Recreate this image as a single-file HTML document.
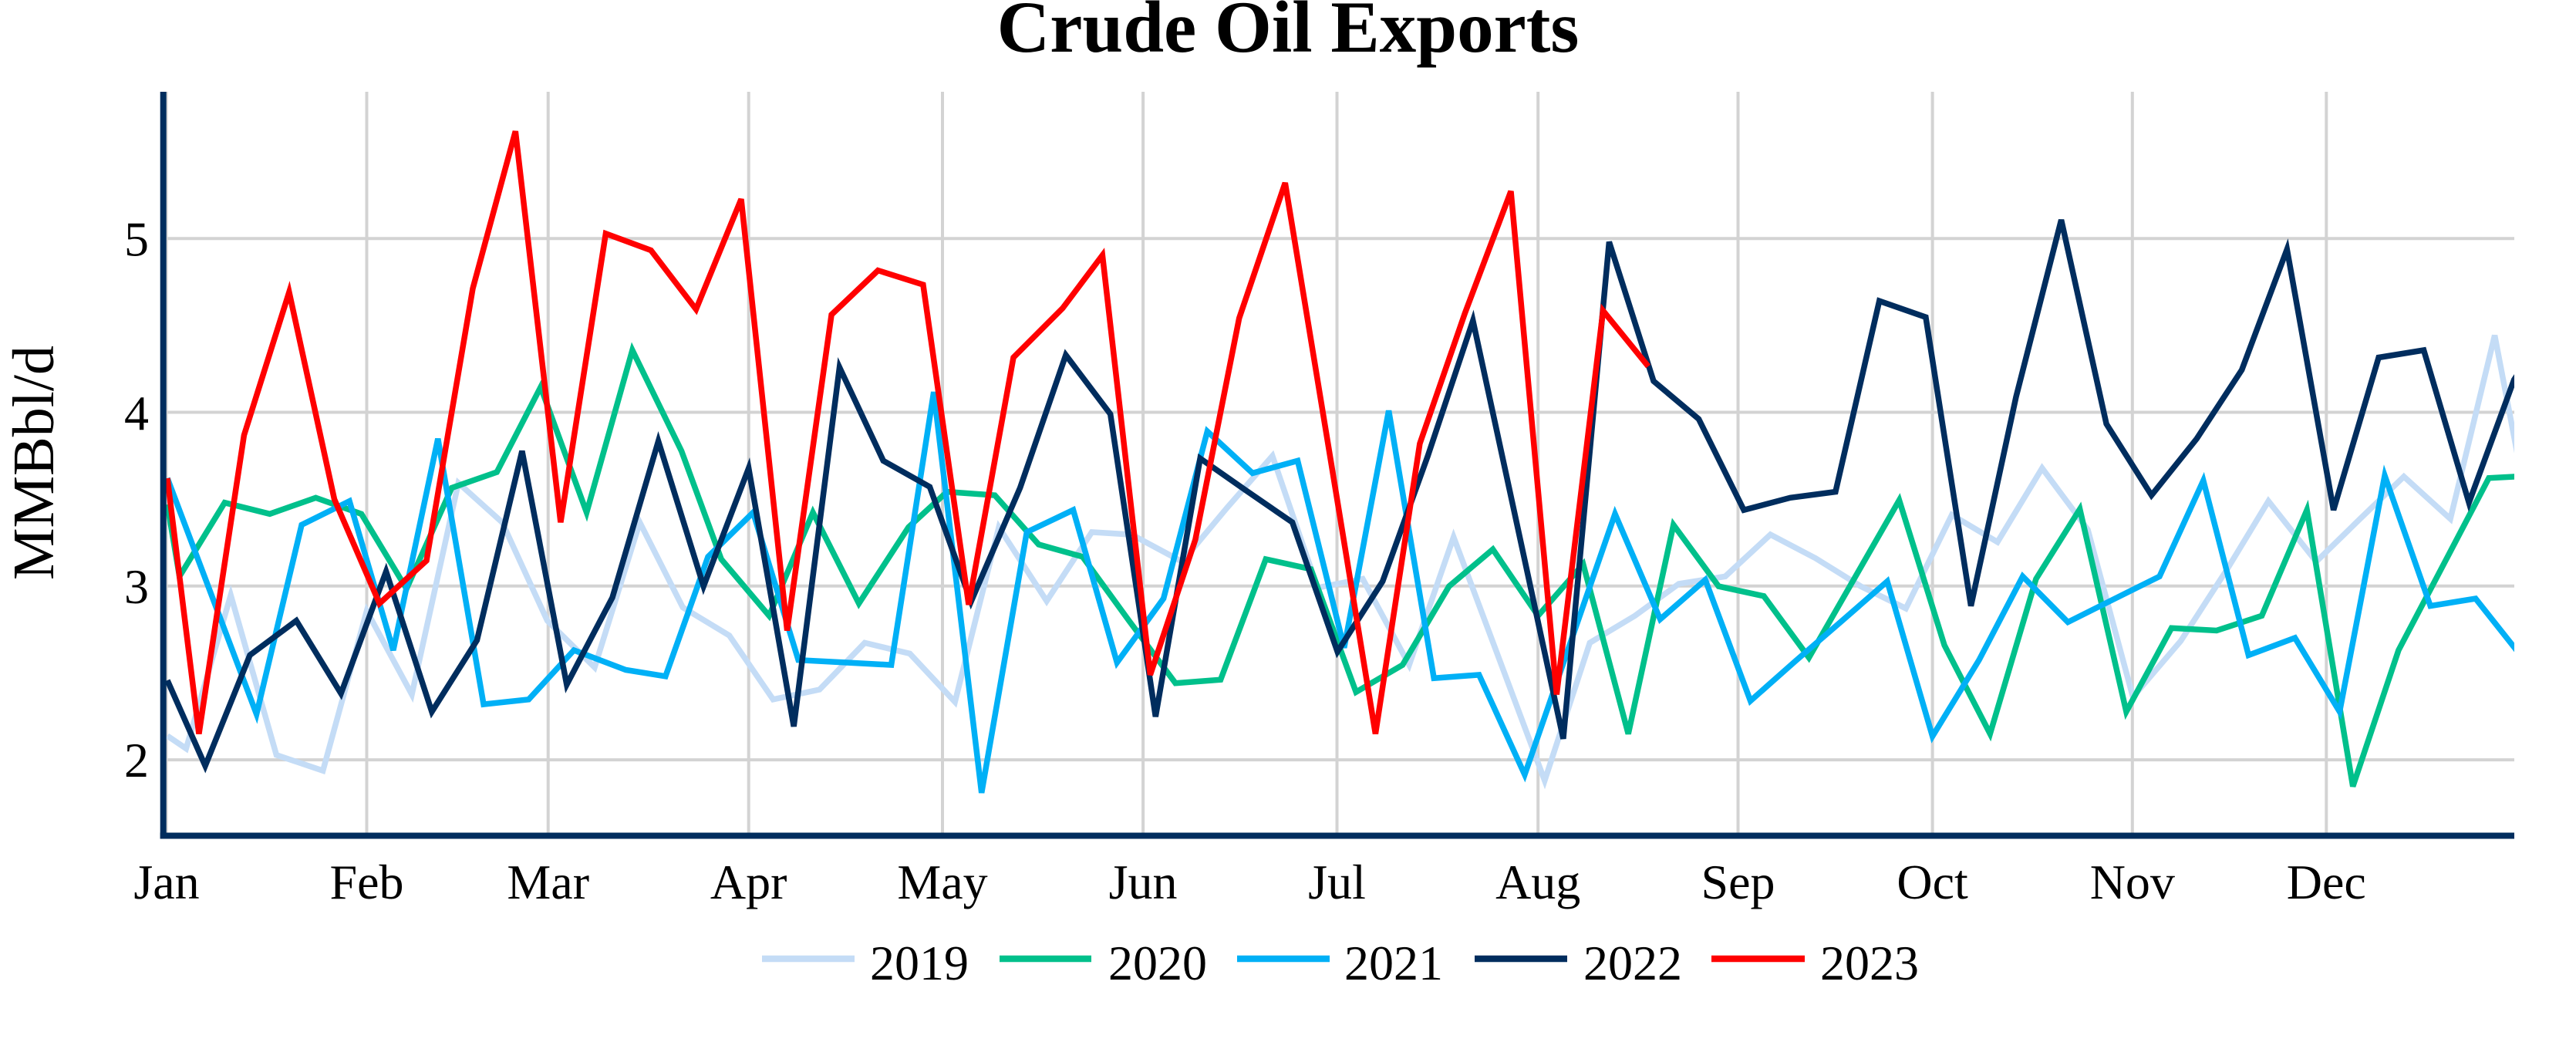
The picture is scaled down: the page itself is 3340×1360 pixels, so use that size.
<!DOCTYPE html>
<html>
<head>
<meta charset="utf-8">
<style>
  html, body { margin: 0; padding: 0; background: #ffffff; }
  svg { display: block; }
  text { font-family: "Liberation Serif", "Times New Roman", serif; fill: #000; }
</style>
</head>
<body>
<svg width="3340" height="1360" viewBox="0 0 3340 1360" xmlns="http://www.w3.org/2000/svg">
  <rect x="0" y="0" width="3340" height="1360" fill="#ffffff"/>
  <defs>
    <clipPath id="plot">
      <rect x="212" y="119" width="3048" height="964"/>
    </clipPath>
  </defs>

  <!-- Title -->
  <text x="1670" y="67" font-size="95" font-weight="bold" text-anchor="middle">Crude Oil Exports</text>

  <!-- Gridlines -->
  <g stroke="#d3d3d3" stroke-width="4" fill="none">
    <line x1="212" y1="309.2" x2="3260" y2="309.2"/>
    <line x1="212" y1="534.5" x2="3260" y2="534.5"/>
    <line x1="212" y1="759.8" x2="3260" y2="759.8"/>
    <line x1="212" y1="985.1" x2="3260" y2="985.1"/>
    <line x1="215.5" y1="119" x2="215.5" y2="1083"/>
    <line x1="475.5" y1="119" x2="475.5" y2="1083"/>
    <line x1="710.7" y1="119" x2="710.7" y2="1083"/>
    <line x1="970.7" y1="119" x2="970.7" y2="1083"/>
    <line x1="1222" y1="119" x2="1222" y2="1083"/>
    <line x1="1482.1" y1="119" x2="1482.1" y2="1083"/>
    <line x1="1733.5" y1="119" x2="1733.5" y2="1083"/>
    <line x1="1994.2" y1="119" x2="1994.2" y2="1083"/>
    <line x1="2253.5" y1="119" x2="2253.5" y2="1083"/>
    <line x1="2505.6" y1="119" x2="2505.6" y2="1083"/>
    <line x1="2764.8" y1="119" x2="2764.8" y2="1083"/>
    <line x1="3016.3" y1="119" x2="3016.3" y2="1083"/>
  </g>

  <!-- Series -->
  <g clip-path="url(#plot)" fill="none" stroke-width="7.5" stroke-linejoin="miter" stroke-miterlimit="4">
    <!-- 2019 -->
    <polyline stroke="#c4dcf6" points="217,954 241.3,970.5 299.2,771.6 358.4,978.8 418.7,999.2 475.5,792 534,900.4 594.3,626.1 651.1,677.2 709.6,804.7 771,865.3 829.5,677.2 885.3,787.5 945.6,823.9 1002.4,906.8 1062.6,894 1121.2,833.4 1179.7,847.4 1238.2,910 1295.1,683.5 1357.1,779.2 1415.6,689.9 1467.3,693.1 1532.7,728.2 1591.2,658 1649.8,591.1 1708.3,762 1766.9,750.5 1827.1,862.1 1884.7,696.3 2002.8,1012 2061.3,833.4 2119.9,798.3 2176.7,756.9 2236.9,747.3 2295.5,693.1 2354,723.7 2412.6,760.1 2471.1,788.8 2530.7,667.6 2589.9,702.7 2647.8,607 2707,686.7 2765.5,903.6 2827.5,831 2887.8,737.8 2941.2,649.7 3003.2,728.2 3060,672.7 3116.8,617.9 3177.1,672.7 3234.6,434.8 3270,620"/>
    <!-- 2020 -->
    <polyline stroke="#00c08b" points="217,654 232.7,747.3 291.3,651.7 349.8,666.3 409.4,645.3 468.6,666.3 527.1,763.3 585.7,632.5 644.2,612.1 701,501.8 760.6,664.4 819.9,454 883.6,584.7 935.2,725 997.2,798.3 1054,664.4 1113.6,782.4 1178,683.5 1227.9,637.6 1289.9,642.1 1346.7,705.9 1403.6,721.8 1463.8,804.7 1524.1,885.7 1582.6,881.2 1641.2,725 1699.7,737.8 1758.2,897.2 1818.5,862.1 1878.8,760.1 1935.6,712.2 1994.2,798.3 2052.7,731.4 2111.2,951.4 2169.8,680.4 2228.3,760.1 2286.9,772.8 2345.4,852.6 2404,750.5 2462.5,648.5 2521.1,836.6 2580.3,951.4 2639.9,750.5 2696.7,660 2756.9,922.7 2815.5,814.3 2874,817.5 2932.6,798.3 2991.1,661.2 3050.7,1019.6 3109.9,843 3168.5,731.4 3227,619.8 3270,617.5"/>
    <!-- 2021 -->
    <polyline stroke="#00b0f6" points="217,620 332.6,925.9 391.1,680.4 453.1,649.7 509.9,843 567.8,568.8 627,913.1 685.5,906.8 744.1,843 811.3,868.5 862.9,876.8 918,721.8 976.5,664.4 1035.1,855.7 1095.3,858.9 1155.6,862.1 1210.7,508.2 1272.7,1027.9 1331.3,689.9 1391.5,661.2 1448.3,858.9 1508.6,776 1565.4,559.2 1624,613.4 1682.5,597.4 1742.8,839.8 1800.6,532.4 1859.2,879.3 1917.7,874.9 1976.9,1004.3 2094,666.3 2152.6,802.8 2211.1,751.8 2269.6,908.7 2328,857 2387,806 2447,753.7 2505.6,954.6 2566,855.7 2622.6,747.3 2681.2,806.6 2739.7,777.3 2800,747.3 2856.8,623 2915.4,849.4 2975.6,827 3033.5,922.7 3092,616.6 3151.2,785.6 3209.8,776 3270,852"/>
    <!-- 2022 -->
    <polyline stroke="#002d5e" points="217,882 266.1,992.9 324,849.4 384.2,804.7 442.1,899.1 500.6,740.9 559.9,922.7 618.4,830.2 676.9,584.7 734.8,887.6 794,774.7 853.6,571.9 912.2,760.1 970.7,607 1029.2,941.8 1088.5,476.3 1145.3,597.4 1205.5,631.2 1259,780 1322.6,632.5 1381.9,460.3 1439.7,536.9 1498.3,929.1 1556.1,594.3 1615.3,635.7 1675.6,677.2 1734.1,844.9 1792.7,753.7 1851.3,591 1909.8,415.7 1968.4,686.7 2026.9,957.8 2086.4,313.6 2144,494.1 2202.5,543.2 2261,661.2 2321.3,645.3 2379.9,637.6 2436.7,390.2 2496.9,411.2 2555.5,785.6 2614,514.5 2672.6,285 2731.1,549.6 2789.6,642.1 2848.2,568.8 2906.7,479.5 2965.3,323.2 3025.6,661.2 3084.1,463.5 3142.6,454 3201.2,651.7 3259.7,492.2 3275,470"/>
    <!-- 2023 -->
    <polyline stroke="#ff0000" points="217,620 257.9,951.4 316.4,564.3 374.9,378.7 433.5,647.2 492,782.4 553,726.9 613,374 668.3,170.2 726.9,677.2 785.4,302.8 844,324.5 902.5,401 961,258.2 1020.6,817.5 1078.1,408 1138.4,350.6 1196.9,369.1 1256,784 1314,463.5 1377.7,399.7 1429.4,330.9 1491.4,874.9 1549.9,699.5 1606.7,412.5 1666.3,237.1 1725.5,597.4 1783.4,951.4 1840.9,575.1 1899.4,406 1959,248 2018.3,900.4 2078.5,402.9 2137.1,475"/>
  </g>

  <!-- Axes -->
  <g stroke="#002d5e" stroke-width="8" fill="none">
    <line x1="211.7" y1="119" x2="211.7" y2="1087.5"/>
    <line x1="207.7" y1="1083.5" x2="3260" y2="1083.5"/>
  </g>

  <!-- Y tick labels -->
  <g font-size="64" text-anchor="end">
    <text x="193" y="331.5">5</text>
    <text x="193" y="557">4</text>
    <text x="193" y="782">3</text>
    <text x="193" y="1007">2</text>
  </g>

  <!-- Y axis title -->
  <text transform="translate(69,600) rotate(-90)" font-size="76" text-anchor="middle">MMBbl/d</text>

  <!-- X tick labels -->
  <g font-size="64" text-anchor="middle">
    <text x="216" y="1165">Jan</text>
    <text x="475.5" y="1165">Feb</text>
    <text x="710.7" y="1165">Mar</text>
    <text x="970.7" y="1165">Apr</text>
    <text x="1222" y="1165">May</text>
    <text x="1482.1" y="1165">Jun</text>
    <text x="1733.5" y="1165">Jul</text>
    <text x="1994.2" y="1165">Aug</text>
    <text x="2253.5" y="1165">Sep</text>
    <text x="2505.6" y="1165">Oct</text>
    <text x="2764.8" y="1165">Nov</text>
    <text x="3016.3" y="1165">Dec</text>
  </g>

  <!-- Legend -->
  <g stroke-width="8.5">
    <line x1="988" y1="1243" x2="1108" y2="1243" stroke="#c4dcf6"/>
    <line x1="1296" y1="1243" x2="1415" y2="1243" stroke="#00c08b"/>
    <line x1="1604" y1="1243" x2="1724" y2="1243" stroke="#00b0f6"/>
    <line x1="1912" y1="1243" x2="2032" y2="1243" stroke="#002d5e"/>
    <line x1="2219" y1="1243" x2="2340" y2="1243" stroke="#ff0000"/>
  </g>
  <g font-size="64">
    <text x="1128" y="1270">2019</text>
    <text x="1437" y="1270">2020</text>
    <text x="1743" y="1270">2021</text>
    <text x="2053" y="1270">2022</text>
    <text x="2360" y="1270">2023</text>
  </g>
</svg>
</body>
</html>
